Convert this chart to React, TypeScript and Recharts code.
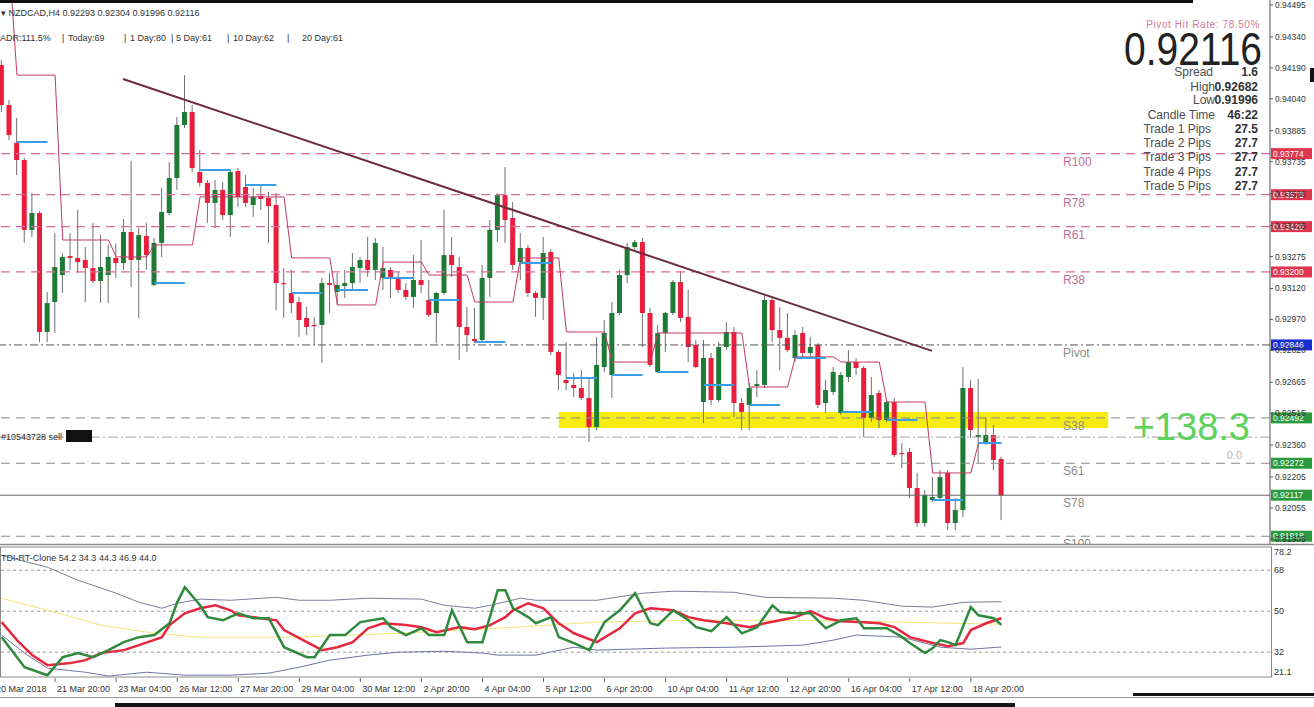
import React from "react";
import {
  Bar,
  ComposedChart,
  Line,
  ReferenceArea,
  ReferenceLine,
  XAxis,
  YAxis,
} from "recharts";

// NZDCAD H4 candles, index 0 = 20 Mar 16:00 ... index 131 = 19 Apr 12:00
const opens = [
  0.94204, 0.9401, 0.93826, 0.93743, 0.93404, 0.93486, 0.92909, 0.93054, 0.93185, 0.93277,
  0.93268, 0.93258, 0.93219, 0.93156, 0.93185, 0.93268, 0.93243, 0.93394, 0.93258, 0.93375,
  0.93137, 0.93341, 0.93486, 0.93656, 0.93913, 0.93976, 0.93685, 0.93632, 0.93535, 0.93598,
  0.93476, 0.9369, 0.93612, 0.93525, 0.93569, 0.93559, 0.93525, 0.93146, 0.93098, 0.93054,
  0.92977, 0.92943, 0.92943, 0.93146, 0.93103, 0.93132, 0.93146, 0.93219, 0.93258, 0.9321,
  0.93171, 0.9321, 0.93176, 0.93113, 0.93079, 0.93161, 0.93064, 0.93001, 0.93098, 0.93282,
  0.93224, 0.92933, 0.92875, 0.9287, 0.93171, 0.93404, 0.93573, 0.93462, 0.93248, 0.93316,
  0.93098, 0.93074, 0.93297, 0.92812, 0.92676, 0.92652, 0.92637, 0.92589, 0.92448, 0.92739,
  0.927, 0.93001, 0.93185, 0.93321, 0.93345, 0.93001, 0.92715, 0.92904, 0.93001, 0.93151,
  0.92982, 0.92846, 0.92569, 0.92783, 0.92579, 0.92836, 0.92909, 0.92564, 0.92555, 0.92647,
  0.92652, 0.93064, 0.92918, 0.9288, 0.92783, 0.92904, 0.92807, 0.92846, 0.92564, 0.92618,
  0.92516, 0.9269, 0.92763, 0.92734, 0.92492, 0.92613, 0.92482, 0.92569, 0.92322, 0.92327,
  0.92152, 0.91982, 0.92094, 0.92104, 0.92225, 0.91982, 0.92045, 0.92637, 0.92399, 0.92375,
  0.92409, 0.92293,
];
const highs = [
  0.94228, 0.94034, 0.93947, 0.93753, 0.93583, 0.93496, 0.93103, 0.93389, 0.93292, 0.93389,
  0.93501, 0.93321, 0.93438, 0.93379, 0.93331, 0.93336, 0.93457, 0.93738, 0.93413, 0.93438,
  0.93365, 0.93607, 0.93733, 0.93952, 0.94155, 0.9401, 0.93792, 0.93646, 0.93646, 0.93636,
  0.93695, 0.93704, 0.9367, 0.93607, 0.93622, 0.93588, 0.93583, 0.93219, 0.9321, 0.93079,
  0.9303, 0.92982, 0.93171, 0.93195, 0.93195, 0.9321, 0.93292, 0.93273, 0.9337, 0.93365,
  0.93321, 0.93224, 0.932, 0.93146, 0.93282, 0.93355, 0.93161, 0.93103, 0.93501, 0.9337,
  0.93273, 0.9303, 0.93025, 0.93234, 0.93452, 0.93583, 0.93709, 0.93539, 0.93389, 0.93331,
  0.93108, 0.9337, 0.93311, 0.92821, 0.9286, 0.9271, 0.92724, 0.9269, 0.92885, 0.92967,
  0.93054, 0.9321, 0.93341, 0.93355, 0.93365, 0.93025, 0.92943, 0.93006, 0.93161, 0.932,
  0.93113, 0.9287, 0.9287, 0.92807, 0.9286, 0.92957, 0.92933, 0.92589, 0.92661, 0.92724,
  0.93088, 0.93079, 0.9303, 0.93001, 0.92918, 0.92933, 0.92885, 0.92855, 0.92676, 0.92739,
  0.92715, 0.92821, 0.92783, 0.92744, 0.9269, 0.92627, 0.92579, 0.92589, 0.9237, 0.92346,
  0.92225, 0.92142, 0.92205, 0.92239, 0.92239, 0.92104, 0.92739, 0.92676, 0.92682, 0.92496,
  0.92458, 0.92304,
];
const lows = [
  0.93976, 0.9384, 0.9367, 0.93341, 0.9337, 0.9286, 0.9286, 0.92904, 0.93098, 0.9321,
  0.93195, 0.93054, 0.93146, 0.93049, 0.93049, 0.93171, 0.9321, 0.93127, 0.92977, 0.9321,
  0.93132, 0.93273, 0.93476, 0.93598, 0.93898, 0.93685, 0.93612, 0.93438, 0.93413, 0.93452,
  0.9337, 0.93515, 0.93515, 0.93467, 0.93501, 0.93341, 0.93015, 0.92977, 0.93001, 0.92885,
  0.92894, 0.92846, 0.92758, 0.93001, 0.9304, 0.93074, 0.93113, 0.93146, 0.93176, 0.93161,
  0.93113, 0.93074, 0.93098, 0.93064, 0.93025, 0.93098, 0.92982, 0.92855, 0.93088, 0.93176,
  0.92773, 0.92812, 0.92855, 0.92855, 0.93079, 0.93345, 0.93341, 0.9321, 0.93161, 0.93079,
  0.92982, 0.92967, 0.92797, 0.92627, 0.92627, 0.92593, 0.92579, 0.92375, 0.92433, 0.92715,
  0.92589, 0.92991, 0.93146, 0.93307, 0.92836, 0.92739, 0.9271, 0.92812, 0.92991, 0.92957,
  0.92763, 0.92734, 0.92467, 0.92555, 0.92569, 0.92821, 0.92496, 0.92433, 0.92433, 0.92593,
  0.92637, 0.9286, 0.92724, 0.92812, 0.92763, 0.92783, 0.92783, 0.9254, 0.92516, 0.92603,
  0.92506, 0.92666, 0.927, 0.92399, 0.92472, 0.92443, 0.92472, 0.92302, 0.92249, 0.92104,
  0.91963, 0.91963, 0.92084, 0.92094, 0.91948, 0.91948, 0.92011, 0.92395, 0.92273, 0.92361,
  0.92239, 0.91996,
];
const closes = [
  0.9401, 0.93864, 0.93743, 0.93404, 0.93486, 0.92909, 0.93049, 0.93224, 0.93273, 0.93268,
  0.93248, 0.93219, 0.93156, 0.93224, 0.93273, 0.93243, 0.93394, 0.93258, 0.93379, 0.93282,
  0.93341, 0.93491, 0.93656, 0.93913, 0.93976, 0.93704, 0.93632, 0.93535, 0.93598, 0.93476,
  0.93685, 0.93564, 0.93535, 0.93564, 0.93554, 0.9352, 0.93146, 0.93142, 0.93049, 0.92967,
  0.92933, 0.92938, 0.93146, 0.93137, 0.93137, 0.93146, 0.93224, 0.93258, 0.9321, 0.93341,
  0.93219, 0.93176, 0.93113, 0.93079, 0.93161, 0.93137, 0.92991, 0.93098, 0.93282, 0.93234,
  0.92933, 0.92894, 0.92865, 0.93171, 0.93404, 0.93573, 0.93452, 0.93234, 0.93316, 0.93098,
  0.93074, 0.93292, 0.92812, 0.927, 0.92661, 0.92637, 0.92589, 0.92448, 0.92749, 0.92904,
  0.93001, 0.93185, 0.93321, 0.93345, 0.93001, 0.92749, 0.92904, 0.93001, 0.93151, 0.92977,
  0.92836, 0.92739, 0.92783, 0.92579, 0.92836, 0.92909, 0.92564, 0.92521, 0.92637, 0.92657,
  0.93064, 0.92918, 0.9288, 0.92821, 0.92894, 0.92807, 0.92836, 0.92555, 0.92627, 0.92715,
  0.927, 0.92763, 0.92734, 0.92492, 0.92603, 0.92482, 0.92569, 0.92312, 0.92317, 0.92152,
  0.91982, 0.92118, 0.92108, 0.92205, 0.91982, 0.92045, 0.92637, 0.92433, 0.92409, 0.92409,
  0.92288, 0.92116,
];

// thin stepped indicator line: level holds from each start index
const stepStarts = [0, 2, 8, 15, 20, 26, 38, 44, 50, 56, 62, 68, 74, 80, 86, 98, 104, 110, 116, 122, 128];
const stepLevels = [
  0.947, 0.94155, 0.93355, 0.93273, 0.93331, 0.93564, 0.93268, 0.9304, 0.93248, 0.93185, 0.93054,
  0.93268, 0.92909, 0.92763, 0.92904, 0.92642, 0.92788, 0.92763, 0.92569, 0.92225, 0.9237,
];
// short blue marks, each over 5 bars from its start index
const blueStarts = [2, 20, 26, 32, 38, 44, 50, 56, 62, 68, 74, 80, 86, 92, 98, 104, 110, 116, 122, 128];
const blueLevels = [
  0.9383, 0.93146, 0.93695, 0.93622, 0.93098, 0.93113, 0.93171, 0.93064, 0.9286, 0.93243,
  0.92686, 0.927, 0.92715, 0.92652, 0.92555, 0.92783, 0.92521, 0.92482, 0.92094, 0.9237,
];

const levelNames = ["R100", "R78", "R61", "R38", "Pivot", "S38", "S61", "S78", "S100"];
const levelKinds = ["R", "R", "R", "R", "P", "S", "S", "B", "S"];
const levelPrices = [0.93774, 0.93575, 0.9342, 0.932, 0.92846, 0.92492, 0.92272, 0.92117, 0.91918];
const orderPrice = 0.92399;

const trendIdx = [15.9, 121.9];
const trendPrice = [0.94136, 0.92817];
const zoneIdx = [73, 145];
const zonePrice = [0.92443, 0.92521];

const priceTicks = [
  0.94495, 0.9434, 0.9419, 0.9404, 0.93885, 0.93735, 0.9358, 0.93425, 0.93275, 0.9312,
  0.9297, 0.9282, 0.92665, 0.92515, 0.9236, 0.92205, 0.92055, 0.91905,
];
const tickIdx = [-1, 7, 15, 23, 31, 39, 47, 55, 63, 71, 79, 87, 95, 103, 111, 119, 127];
const tickLabels = [
  "20 Mar 2018", "21 Mar 20:00", "23 Mar 04:00", "26 Mar 12:00", "27 Mar 20:00", "29 Mar 04:00",
  "30 Mar 12:00", "2 Apr 20:00", "4 Apr 04:00", "5 Apr 12:00", "6 Apr 20:00", "10 Apr 04:00",
  "11 Apr 12:00", "12 Apr 20:00", "16 Apr 04:00", "17 Apr 12:00", "18 Apr 20:00",
];

// TDI readings: [bar index, value]
const greenPts = [
  [0, 38.6], [3, 25.4], [6, 21.9], [8, 29.8], [10, 31.6], [12, 29.8], [14, 32.9], [16, 36.4],
  [18, 38.6], [20, 39.5], [22, 44.7], [23, 53.9], [24, 60.5], [26, 52.6], [27, 47.4], [29, 46.0],
  [31, 49.1], [33, 46.9], [35, 46.9], [37, 34.2], [40, 29.8], [41, 29.8], [43, 39.5], [45, 39.5],
  [47, 45.2], [50, 46.9], [51, 43.0], [53, 39.5], [55, 42.5], [56, 39.5], [58, 39.5], [59, 50.4],
  [61, 36.4], [63, 36.4], [65, 59.2], [66, 59.2], [67, 51.3], [69, 47.4], [70, 44.7], [72, 47.4],
  [73, 38.6], [75, 36.0], [77, 32.9], [79, 45.2], [81, 50.4], [83, 57.9], [85, 44.7], [86, 43.9],
  [88, 50.4], [90, 46.0], [91, 43.0], [93, 41.2], [95, 47.4], [97, 40.3], [99, 43.0], [101, 52.6],
  [102, 49.6], [104, 49.1], [106, 49.1], [108, 42.5], [110, 46.0], [112, 46.9], [113, 42.5],
  [116, 42.5], [118, 38.6], [119, 36.0], [121, 31.6], [122, 33.8], [123, 37.3], [124, 36.4],
  [125, 35.1], [127, 51.8], [128, 48.2], [130, 46.9], [131, 44.0],
];
const redPts = [
  [0, 45.2], [2, 37.3], [4, 30.7], [6, 26.3], [9, 27.2], [11, 28.5], [13, 31.6], [16, 32.9],
  [18, 35.1], [21, 38.6], [22, 43.9], [24, 49.1], [26, 51.3], [28, 52.6], [30, 50.4], [31, 48.2],
  [34, 46.9], [36, 46.0], [37, 41.7], [40, 36.4], [42, 32.9], [44, 34.2], [46, 36.4], [48, 42.5],
  [50, 44.7], [53, 43.9], [55, 43.0], [57, 40.8], [60, 43.0], [62, 42.1], [64, 43.9], [66, 47.4],
  [67, 50.4], [69, 53.5], [71, 51.3], [73, 44.7], [75, 40.3], [78, 36.4], [81, 42.5], [83, 49.1],
  [85, 51.3], [88, 50.4], [90, 47.4], [92, 46.0], [95, 44.7], [98, 43.0], [100, 44.7], [102, 46.0],
  [104, 47.4], [106, 50.0], [108, 46.9], [110, 45.6], [113, 45.2], [115, 44.7], [117, 43.0],
  [119, 38.6], [122, 36.0], [124, 34.6], [126, 36.0], [127, 41.7], [129, 44.7], [131, 46.9],
];
const upperPts = [
  [0, 74.5], [6, 69.3], [10, 63.6], [15, 57.9], [18, 53.9], [21, 51.3], [23, 53.5], [26, 55.3],
  [30, 54.8], [36, 56.1], [39, 54.8], [43, 54.8], [48, 55.7], [55, 55.3], [58, 52.6], [62, 51.3],
  [64, 52.6], [68, 55.7], [70, 54.8], [78, 54.8], [84, 57.9], [88, 58.8], [96, 58.3], [100, 56.1],
  [109, 55.7], [113, 54.8], [118, 52.2], [122, 51.8], [126, 53.9], [131, 54.2],
];
const lowerPts = [
  [0, 39.5], [3, 31.6], [6, 25.0], [11, 23.2], [14, 21.5], [19, 23.2], [24, 21.9], [30, 21.9],
  [35, 22.8], [39, 25.4], [43, 28.5], [48, 30.7], [52, 32.0], [58, 32.4], [63, 31.6], [65, 30.7],
  [70, 30.7], [75, 34.2], [78, 32.9], [87, 33.8], [96, 34.2], [105, 35.1], [109, 37.3], [112, 39.5],
  [118, 38.6], [123, 34.2], [127, 33.3], [131, 34.3],
];
const mblPts = [
  [0, 55.7], [6, 50.4], [13, 43.9], [20, 40.3], [26, 38.6], [39, 38.6], [52, 40.3], [65, 42.5],
  [78, 45.2], [91, 46.0], [104, 46.0], [118, 45.2], [131, 44.3],
];
const tdiTicks = [21.1, 32, 50, 68, 78.2];
const tdiLevels = [68, 50, 32];

const FONT = "'Liberation Sans', Arial, sans-serif";
const X_DOMAIN = [-0.22, 166.2];
const GREEN = "#1e7b35";
const RED = "#e81e3c";

const stepAt = (i) => {
  let v = null;
  stepStarts.forEach((s, k) => {
    if (i >= s) v = stepLevels[k];
  });
  return v;
};
const blueAt = (i) => {
  const k = blueStarts.findIndex((s) => i >= s && i <= s + 4);
  return k < 0 ? null : blueLevels[k];
};

const candles = opens.map((o, i) => ({
  i,
  range: [lows[i], highs[i]],
  o,
  h: highs[i],
  l: lows[i],
  c: closes[i],
  step: stepAt(i),
  blue: blueAt(i),
}));

const toMap = (pts) => new Map(pts.map(([i, v]) => [i, v]));
const gm = toMap(greenPts);
const rm = toMap(redPts);
const um = toMap(upperPts);
const lm = toMap(lowerPts);
const mm = toMap(mblPts);
const tdiRows = opens.map((_, i) => ({
  i,
  green: gm.get(i) ?? null,
  red: rm.get(i) ?? null,
  upper: um.get(i) ?? null,
  lower: lm.get(i) ?? null,
  mbl: mm.get(i) ?? null,
}));

const Candle = (props) => {
  const { x, y, width, height, payload } = props;
  if (x == null || y == null || !payload) return null;
  const top = Math.min(y, y + height);
  const span = Math.abs(height);
  const { o, h, l, c } = payload;
  const px = (v) => (h === l ? top : top + ((h - v) / (h - l)) * span);
  const cx = x + width / 2;
  const bTop = px(Math.max(o, c));
  const bBot = px(Math.min(o, c));
  return (
    <g>
      <line x1={cx} x2={cx} y1={top} y2={top + span} stroke="#6f6f6f" strokeWidth={1} />
      <rect
        x={cx - 2.5}
        y={bTop}
        width={5}
        height={Math.max(1.2, bBot - bTop)}
        fill={c >= o ? GREEN : RED}
      />
    </g>
  );
};

const PriceTick = ({ x, y, payload }) => (
  <text x={x} y={y + 3} fontSize={8.5} fill="#333" fontFamily={FONT}>
    {Number(payload.value).toFixed(5)}
  </text>
);

const TimeTick = ({ x, y, payload }) => {
  const k = tickIdx.indexOf(payload.value);
  return (
    <g>
      <line x1={x} x2={x} y1={y + 1} y2={y + 5} stroke="#666" />
      <text x={x + 2} y={y + 15} fontSize={9} fill="#333" fontFamily={FONT}>
        {tickLabels[k]}
      </text>
    </g>
  );
};

const TdiTick = ({ x, y, payload }) => {
  const v = payload.value;
  const dy = v === 78.2 ? 8 : v === 21.1 ? -2 : 3;
  return (
    <text x={x} y={y + dy} fontSize={9} fill="#333" fontFamily={FONT}>
      {String(v)}
    </text>
  );
};

const levelLabel = (name, price, kind) => (props) => {
  const vb = props.viewBox || {};
  const y = vb.y;
  const right = vb.x + vb.width;
  const box = kind === "R" ? "#e0354e" : kind === "P" ? "#1a2fd4" : "#2b9a3f";
  const txt = kind === "R" ? "#b9739b" : "#8e8e8e";
  return (
    <g>
      <text x={vb.x + 1063} y={y + 12} fontSize={12} fill={txt} fontFamily={FONT}>
        {name}
      </text>
      <rect x={right + 1} y={y - 5.5} width={41} height={11} fill={box} />
      <text x={right + 3} y={y + 3.2} fontSize={8.5} fill="#ffffff" fontFamily={FONT}>
        {price.toFixed(5)}
      </text>
    </g>
  );
};

const levelStroke = (kind) =>
  kind === "R"
    ? { stroke: "#dc6a9c", strokeDasharray: "9 6", strokeWidth: 1.2 }
    : kind === "P"
    ? { stroke: "#555", strokeDasharray: "8 3 2 3", strokeWidth: 1 }
    : kind === "B"
    ? { stroke: "#666", strokeWidth: 1 }
    : { stroke: "#8a8a8a", strokeDasharray: "9 6", strokeWidth: 1 };

const infoRows = [
  ["Spread", "1.6", 1213, 76],
  ["High", "0.92682", 1215, 91],
  ["Low", "0.91996", 1215, 104],
  ["Candle Time", "46:22", 1215, 119],
  ["Trade 1 Pips", "27.5", 1211, 133],
  ["Trade 2 Pips", "27.7", 1211, 147],
  ["Trade 3 Pips", "27.7", 1211, 161],
  ["Trade 4 Pips", "27.7", 1211, 176],
  ["Trade 5 Pips", "27.7", 1211, 190],
];
const adrParts = [
  ["ADR:111.5%", 0], ["|", 62], ["Today:69", 68], ["|", 124], ["1 Day:80", 130], ["|", 171],
  ["5 Day:61", 176], ["|", 227], ["10 Day:62", 233], ["|", 287], ["20 Day:61", 302],
];

export default function App() {
  return (
    <div
      style={{
        position: "absolute",
        left: 0,
        top: 0,
        width: 1314,
        height: 707,
        background: "#fff",
        overflow: "hidden",
      }}
    >
      <div style={{ position: "absolute", left: 0, top: 0 }}>
        <ComposedChart
          width={1314}
          height={545}
          data={candles}
          margin={{ top: 0, right: 0, bottom: 0, left: 0 }}
        >
          <XAxis dataKey="i" type="number" domain={X_DOMAIN} allowDataOverflow hide />
          <YAxis
            orientation="right"
            width={44}
            domain={[0.918755, 0.945193]}
            allowDataOverflow
            ticks={priceTicks}
            interval={0}
            tick={<PriceTick />}
            tickSize={3}
            tickMargin={2}
            tickLine={{ stroke: "#555" }}
            axisLine={{ stroke: "#555" }}
          />
          <ReferenceArea
            x1={zoneIdx[0]}
            x2={zoneIdx[1]}
            y1={zonePrice[0]}
            y2={zonePrice[1]}
            fill="#f5ea00"
            fillOpacity={0.92}
            stroke="none"
            ifOverflow="visible"
          />
          {levelPrices.map((p, k) => (
            <ReferenceLine
              key={levelNames[k]}
              y={p}
              {...levelStroke(levelKinds[k])}
              label={levelLabel(levelNames[k], p, levelKinds[k] === "B" ? "S" : levelKinds[k])}
            />
          ))}
          <ReferenceLine y={orderPrice} stroke="#a0a0a0" strokeDasharray="10 3 2 3" />
          <Bar
            dataKey="range"
            barSize={5}
            shape={<Candle />}
            isAnimationActive={false}
          />
          <Line
            dataKey="step"
            type="linear"
            stroke="#c23a64"
            strokeWidth={1}
            dot={false}
            connectNulls
            isAnimationActive={false}
          />
          <Line
            dataKey="blue"
            type="linear"
            stroke="#3a9ee8"
            strokeWidth={2}
            dot={false}
            connectNulls={false}
            isAnimationActive={false}
          />
          <ReferenceLine
            segment={[
              { x: trendIdx[0], y: trendPrice[0] },
              { x: trendIdx[1], y: trendPrice[1] },
            ]}
            stroke="#6b2c3d"
            strokeWidth={2}
            ifOverflow="visible"
          />
        </ComposedChart>
      </div>

      <div style={{ position: "absolute", left: 0, top: 547 }}>
        <ComposedChart
          width={1314}
          height={160}
          data={tdiRows}
          margin={{ top: 0, right: 0, bottom: 0, left: 0 }}
        >
          <XAxis
            dataKey="i"
            type="number"
            domain={X_DOMAIN}
            allowDataOverflow
            ticks={tickIdx}
            interval={0}
            tick={<TimeTick />}
            tickSize={0}
            tickMargin={0}
            tickLine={false}
            axisLine={false}
            height={30}
          />
          <YAxis
            orientation="right"
            width={44}
            domain={[21.1, 78.2]}
            allowDataOverflow
            ticks={tdiTicks}
            interval={0}
            tick={<TdiTick />}
            tickSize={0}
            tickMargin={4}
            tickLine={false}
            axisLine={false}
          />
          {tdiLevels.map((v) => (
            <ReferenceLine key={v} y={v} stroke="#9a9a9a" strokeDasharray="3 3" />
          ))}
          <Line dataKey="mbl" stroke="#f0e67a" strokeWidth={1} dot={false} connectNulls isAnimationActive={false} />
          <Line dataKey="upper" stroke="#7d7d98" strokeWidth={1} dot={false} connectNulls isAnimationActive={false} />
          <Line dataKey="lower" stroke="#6e74a4" strokeWidth={1} dot={false} connectNulls isAnimationActive={false} />
          <Line dataKey="red" stroke="#e6283f" strokeWidth={2.5} dot={false} connectNulls isAnimationActive={false} />
          <Line dataKey="green" stroke="#2f8a3d" strokeWidth={2.5} dot={false} connectNulls isAnimationActive={false} />
        </ComposedChart>
      </div>

      <svg
        width={1314}
        height={707}
        style={{ position: "absolute", left: 0, top: 0, pointerEvents: "none" }}
        fontFamily={FONT}
      >
        <rect x={0} y={0} width={1193} height={3} fill="#111" />
        <rect x={1310} y={68} width={4} height={14} fill="#111" />
        <line x1={0} x2={1314} y1={544.5} y2={544.5} stroke="#8a8a8a" strokeWidth={1.5} />
        <rect x={0.5} y={547} width={1271} height={130} fill="none" stroke="#8a8a8a" />
        <line x1={0} x2={1314} y1={697.5} y2={697.5} stroke="#9a9a9a" />
        <rect x={115} y={703} width={900} height={4} fill="#151515" />
        <rect x={1133} y={693} width={181} height={3} fill="#151515" />

        <text x={1} y={15.5} fontSize={9} fill="#333">
          ▾ NZDCAD,H4  0.92293 0.92304 0.91996 0.92116
        </text>
        {adrParts.map(([t, x]) => (
          <text key={t + x} x={x} y={41} fontSize={9} fill="#333">
            {t}
          </text>
        ))}

        <text x={1260} y={27.5} fontSize={10} fill="#d27a9c" textAnchor="end" letterSpacing={0.6}>
          Pivot Hit Rate: 78.50%
        </text>
        <text
          x={1262}
          y={65}
          fontSize={46}
          fill="#222"
          textAnchor="end"
          textLength={138}
          lengthAdjust="spacingAndGlyphs"
        >
          0.92116
        </text>
        {infoRows.map(([label, value, lx, by]) => (
          <g key={label}>
            <text x={lx} y={by} fontSize={12} fill="#4d4d4d" textAnchor="end">
              {label}
            </text>
            <text x={1258} y={by} fontSize={12} fontWeight="bold" fill="#333" textAnchor="end">
              {value}
            </text>
          </g>
        ))}

        <text x={1250} y={440} fontSize={38} fill="#5dd35d" textAnchor="end">
          +138.3
        </text>
        <text x={1242} y={459} fontSize={11} fill="#b5b5b5" textAnchor="end">
          0.0
        </text>

        <text x={1} y={440} fontSize={9} fill="#333">
          #10543728 sell
        </text>
        <rect x={66} y={430} width={26} height={12} fill="#111" />

        <text x={1} y={561} fontSize={9} fill="#333">
          TDI-RT-Clone 54.2 34.3 44.3 46.9 44.0
        </text>
      </svg>
    </div>
  );
}
